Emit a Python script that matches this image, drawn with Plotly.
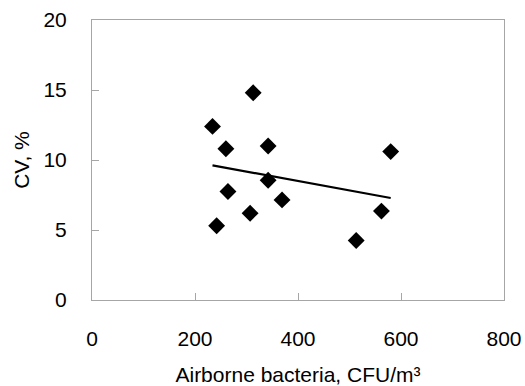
import numpy as np
import plotly.graph_objects as go

bacteria = [234, 313, 260, 342, 580, 342, 264, 369, 307, 562, 242, 513]
cv = [12.4, 14.8, 10.8, 11.0, 10.6, 8.55, 7.75, 7.15, 6.2, 6.35, 5.3, 4.25]

x_ticks = [0, 200, 400, 600, 800]
y_ticks = [0, 5, 10, 15, 20]

slope, intercept = np.polyfit(bacteria, cv, 1)
x_fit = [min(bacteria), max(bacteria)]
y_fit = [slope * v + intercept for v in x_fit]

fig = go.Figure()
fig.add_trace(go.Scatter(x=bacteria, y=cv, mode="markers",
                         marker=dict(symbol="diamond", size=13, color="black"),
                         showlegend=False))
fig.add_trace(go.Scatter(x=x_fit, y=y_fit, mode="lines",
                         line=dict(color="black", width=2.2), showlegend=False))

FONT = "Liberation Sans, Arial"
axis_common = dict(showline=True, linecolor="#a6a6a6", linewidth=1, mirror=True,
                   showgrid=False, zeroline=False, ticks="inside", ticklen=7,
                   tickcolor="#a6a6a6", automargin=False,
                   tickfont=dict(family=FONT, size=21, color="black"))

fig.update_layout(
    template="none",
    width=525, height=386,
    margin=dict(l=92, r=21, t=20, b=86),
    paper_bgcolor="white", plot_bgcolor="white",
    font=dict(family=FONT, size=21, color="black"),
    xaxis=dict(range=[0, 800], tickvals=x_ticks, ticklabelstandoff=20,
               title=dict(text="Airborne bacteria, CFU/m³", standoff=18,
                          font=dict(size=21)), **axis_common),
    yaxis=dict(range=[0, 20], tickvals=y_ticks, ticklabelstandoff=20,
               title=dict(text="CV, %", standoff=8, font=dict(size=21)), **axis_common),
)

fig.write_html("out.html", config={"displayModeBar": False},
               post_script="document.body.style.margin='0';document.body.style.overflow='hidden';")
